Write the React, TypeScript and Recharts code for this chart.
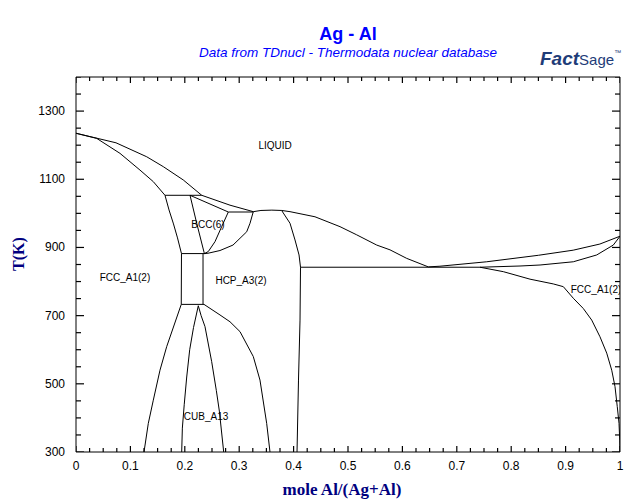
import React from 'react';
import { ComposedChart, Line, XAxis, YAxis, Scatter } from 'recharts';

type P = { x: number; T: number };

// Phase boundary curves (x = mole fraction Al, T in K)
const liquidusAg: P[] = [
  { x: 0, T: 1235 }, { x: 0.0735, T: 1207 }, { x: 0.13, T: 1166 }, { x: 0.1605, T: 1137 },
  { x: 0.1972, T: 1098 }, { x: 0.2311, T: 1053 }, { x: 0.2831, T: 1024 }, { x: 0.3259, T: 1005 },
];
const hcpTop: P[] = [
  { x: 0.3259, T: 1005 }, { x: 0.34, T: 1008.5 }, { x: 0.36, T: 1009.5 }, { x: 0.378, T: 1008.5 },
];
const liquidusMid: P[] = [
  { x: 0.378, T: 1008.5 }, { x: 0.3934, T: 1005 }, { x: 0.4393, T: 990 }, { x: 0.4853, T: 961 },
  { x: 0.516, T: 937 }, { x: 0.5528, T: 907 }, { x: 0.5772, T: 893 }, { x: 0.6079, T: 868 },
  { x: 0.6476, T: 843 },
];
const solidusAg: P[] = [
  { x: 0, T: 1235 }, { x: 0.038, T: 1220 }, { x: 0.0809, T: 1176 }, { x: 0.1176, T: 1127 },
  { x: 0.1421, T: 1093 }, { x: 0.1636, T: 1053 },
];
const peritectic1053: P[] = [{ x: 0.1636, T: 1053 }, { x: 0.2311, T: 1053 }];
const fccAgBoundary: P[] = [
  { x: 0.1636, T: 1053 }, { x: 0.171, T: 1010 }, { x: 0.1792, T: 969 }, { x: 0.1866, T: 928 },
  { x: 0.1939, T: 882 }, { x: 0.1935, T: 733 }, { x: 0.1667, T: 609 }, { x: 0.1544, T: 540 },
  { x: 0.1421, T: 452 }, { x: 0.1329, T: 384 }, { x: 0.125, T: 300 },
];
const bccLeft: P[] = [{ x: 0.2096, T: 1053 }, { x: 0.2219, T: 971 }, { x: 0.236, T: 882 }];
const bccSolidus: P[] = [{ x: 0.2096, T: 1053 }, { x: 0.28, T: 1004 }];
const bccRight: P[] = [
  { x: 0.28, T: 1004 }, { x: 0.2678, T: 961 }, { x: 0.2555, T: 917 }, { x: 0.2432, T: 888 },
  { x: 0.236, T: 882 },
];
const eutectic1004: P[] = [{ x: 0.28, T: 1004 }, { x: 0.3259, T: 1004 }];
const hcpLeftHigh: P[] = [
  { x: 0.3259, T: 1005 }, { x: 0.3199, T: 971 }, { x: 0.3138, T: 946 }, { x: 0.3015, T: 927 },
  { x: 0.2886, T: 907 }, { x: 0.2647, T: 891 }, { x: 0.2426, T: 883 }, { x: 0.236, T: 882 },
];
const eutectoid882: P[] = [{ x: 0.1939, T: 882 }, { x: 0.238, T: 882 }];
const hcpVertical: P[] = [{ x: 0.2335, T: 882 }, { x: 0.2335, T: 733 }];
const peritectoid733: P[] = [{ x: 0.1935, T: 733 }, { x: 0.2353, T: 733 }];
const cubLeft: P[] = [
  { x: 0.2248, T: 729 }, { x: 0.216, T: 665 }, { x: 0.209, T: 600 }, { x: 0.2035, T: 520 },
  { x: 0.199, T: 440 }, { x: 0.1955, T: 370 }, { x: 0.1943, T: 300 },
];
const cubRight: P[] = [
  { x: 0.2248, T: 729 }, { x: 0.23, T: 700 }, { x: 0.2371, T: 668 }, { x: 0.2494, T: 565 },
  { x: 0.258, T: 480 }, { x: 0.2635, T: 420 }, { x: 0.2715, T: 300 },
];
const hcpLeftLow: P[] = [
  { x: 0.2353, T: 733 }, { x: 0.2647, T: 702 }, { x: 0.2831, T: 682 }, { x: 0.3015, T: 653 },
  { x: 0.3259, T: 580 }, { x: 0.3382, T: 511 }, { x: 0.3505, T: 384 }, { x: 0.3566, T: 300 },
];
const hcpRight: P[] = [
  { x: 0.378, T: 1008.5 }, { x: 0.3934, T: 971 }, { x: 0.4026, T: 922 }, { x: 0.41, T: 878 },
  { x: 0.4127, T: 842 }, { x: 0.4118, T: 687 }, { x: 0.409, T: 511 }, { x: 0.4063, T: 300 },
];
const eutectic842: P[] = [{ x: 0.4127, T: 842 }, { x: 0.7426, T: 842 }];
const alLiquidus: P[] = [
  { x: 0.6476, T: 843 }, { x: 0.669, T: 845 }, { x: 0.755, T: 858 }, { x: 0.85, T: 877 },
  { x: 0.914, T: 892 }, { x: 0.963, T: 910 }, { x: 1, T: 933 },
];
const alSolidus: P[] = [
  { x: 0.7426, T: 842 }, { x: 0.8162, T: 845.6 }, { x: 0.853, T: 848.5 }, { x: 0.9142, T: 858 },
  { x: 0.9572, T: 878 }, { x: 0.9877, T: 907 }, { x: 1, T: 933 },
];
const alSolvus: P[] = [
  { x: 0.7426, T: 842 }, { x: 0.7855, T: 829 }, { x: 0.8346, T: 807 }, { x: 0.8774, T: 793 },
  { x: 0.8958, T: 785 }, { x: 0.9142, T: 751 }, { x: 0.9325, T: 721 }, { x: 0.948, T: 687 },
  { x: 0.9632, T: 638 }, { x: 0.9756, T: 590 }, { x: 0.9848, T: 540 }, { x: 0.9908, T: 492 },
  { x: 0.995, T: 433 }, { x: 0.9982, T: 384 }, { x: 0.9995, T: 335 }, { x: 1, T: 300 },
];

const curves: P[][] = [
  liquidusAg, hcpTop, liquidusMid, solidusAg, peritectic1053, fccAgBoundary, bccLeft, bccSolidus,
  bccRight, eutectic1004, hcpLeftHigh, eutectoid882, hcpVertical, peritectoid733, cubLeft, cubRight,
  hcpLeftLow, hcpRight, eutectic842, alLiquidus, alSolidus, alSolvus,
];

const phaseLabels = [
  { x: 0.366, T: 1198, name: 'LIQUID' },
  { x: 0.2426, T: 966, name: 'BCC(6)' },
  { x: 0.09, T: 813, name: 'FCC_A1(2)' },
  { x: 0.3033, T: 802, name: 'HCP_A3(2)' },
  { x: 0.239, T: 405, name: 'CUB_A13' },
  { x: 0.956, T: 778, name: 'FCC_A1(2)' },
];

const X_MIN = 0, X_MAX = 1, T_MIN = 300, T_MAX = 1400;
const xMajor = [0, 0.1, 0.2, 0.3, 0.4, 0.5, 0.6, 0.7, 0.8, 0.9, 1];
const xMajorLabels = ['0', '0.1', '0.2', '0.3', '0.4', '0.5', '0.6', '0.7', '0.8', '0.9', '1'];
const yMajor = [300, 500, 700, 900, 1100, 1300];
const yMajorLabels = ['300', '500', '700', '900', '1100', '1300'];

const xTicksAll: number[] = [];
for (let i = 0; i <= 40; i++) xTicksAll.push(Math.round(i * 25) / 1000);
const yTicksAll: number[] = [];
for (let t = 300; t <= 1400; t += 50) yTicksAll.push(t);

const idxOf = (arr: number[], v: number) => arr.findIndex((m) => Math.abs(m - v) < 1e-6);

// Tick marks anchored on the frame; the shape draws an inward stroke of dx/dy pixels
type TickMark = { x: number; T: number; dx: number; dy: number };
const tickMarks: TickMark[] = [];
xTicksAll.forEach((v) => {
  const len = idxOf(xMajor, v) >= 0 ? 6 : 4;
  tickMarks.push({ x: v, T: T_MIN, dx: 0, dy: -len });
  tickMarks.push({ x: v, T: T_MAX, dx: 0, dy: len });
});
yTicksAll.forEach((t) => {
  const len = idxOf(yMajor, t) >= 0 ? 8 : 5;
  tickMarks.push({ x: X_MIN, T: t, dx: len, dy: 0 });
  tickMarks.push({ x: X_MAX, T: t, dx: -len, dy: 0 });
});

const tickFont = 'Liberation Sans, Arial, sans-serif';

const TickShape = (p: any) => {
  const { cx, cy, payload } = p;
  return (
    <path
      d={`M${cx},${cy}L${cx + payload.dx},${cy + payload.dy}`}
      stroke="#000"
      strokeWidth={1.2}
      fill="none"
    />
  );
};

const LabelShape = (p: any) => (
  <text x={p.cx} y={p.cy + 3.5} textAnchor="middle" fontSize={10} fontFamily={tickFont} fill="#000">
    {p.payload.name}
  </text>
);

const BottomLabel = (props: any) => {
  const { x, y, payload } = props;
  const idx = idxOf(xMajor, payload.value);
  if (idx < 0) return null;
  return (
    <text x={x} y={y + 18} textAnchor="middle" fontSize={12} fontFamily={tickFont} fill="#000">
      {xMajorLabels[idx]}
    </text>
  );
};
const LeftLabel = (props: any) => {
  const { x, y, payload } = props;
  const idx = idxOf(yMajor, payload.value);
  if (idx < 0) return null;
  return (
    <text x={x - 11} y={y + 4} textAnchor="end" fontSize={12} fontFamily={tickFont} fill="#000">
      {yMajorLabels[idx]}
    </text>
  );
};
const NoLabel = () => null;

export default function App() {
  return (
    <div style={{ position: 'absolute', left: 0, top: 0, width: 640, height: 504, background: '#fff' }}>
      <ComposedChart width={640} height={504} margin={{ top: 0, right: 0, bottom: 0, left: 0 }}>
        <XAxis
          dataKey="x"
          type="number"
          domain={[X_MIN, X_MAX]}
          allowDataOverflow
          ticks={xMajor}
          interval={0}
          tickSize={0}
          tickMargin={0}
          tickLine={false}
          stroke="#000"
          tick={<BottomLabel />}
          height={52}
        />
        <XAxis
          xAxisId="top"
          orientation="top"
          type="number"
          domain={[X_MIN, X_MAX]}
          tickLine={false}
          stroke="#000"
          tick={<NoLabel />}
          height={77}
        />
        <YAxis
          dataKey="T"
          type="number"
          domain={[T_MIN, T_MAX]}
          allowDataOverflow
          ticks={yMajor}
          interval={0}
          tickSize={0}
          tickMargin={0}
          tickLine={false}
          stroke="#000"
          tick={<LeftLabel />}
          width={76}
        />
        <YAxis
          yAxisId="right"
          orientation="right"
          type="number"
          domain={[T_MIN, T_MAX]}
          tickLine={false}
          stroke="#000"
          tick={<NoLabel />}
          width={20}
        />
        {curves.map((c, i) => (
          <Line
            key={i}
            data={c}
            dataKey="T"
            type="linear"
            stroke="#000"
            strokeWidth={1}
            dot={false}
            activeDot={false}
            isAnimationActive={false}
          />
        ))}
        <Scatter data={tickMarks} dataKey="T" shape={<TickShape />} isAnimationActive={false} />
        <Scatter data={phaseLabels} dataKey="T" shape={<LabelShape />} isAnimationActive={false} />
      </ComposedChart>
      <svg
        width={640}
        height={504}
        style={{ position: 'absolute', left: 0, top: 0, pointerEvents: 'none' }}
      >
        <text x={348} y={40} textAnchor="middle" fontSize={18} fontWeight="bold" fill="#0000FF" fontFamily={tickFont}>
          Ag - Al
        </text>
        <text x={348} y={57} textAnchor="middle" fontSize={13.5} fontStyle="italic" fill="#0000FF" fontFamily={tickFont}>
          Data from TDnucl - Thermodata nuclear database
        </text>
        <text x={540} y={65} fill="#1e3c78" fontFamily={tickFont}>
          <tspan fontSize={19} fontWeight="bold" fontStyle="italic">Fact</tspan>
          <tspan fontSize={15}>Sage</tspan>
          <tspan fontSize={7} dy={-10}>™</tspan>
        </text>
        <text
          x={24}
          y={254}
          transform="rotate(-90 24 254)"
          textAnchor="middle"
          fontSize={16}
          fontWeight="bold"
          fill="#000080"
          fontFamily="Liberation Serif, Times New Roman, serif"
        >
          T(K)
        </text>
        <text
          x={342}
          y={495}
          textAnchor="middle"
          fontSize={17}
          fontWeight="bold"
          fill="#000080"
          fontFamily="Liberation Serif, Times New Roman, serif"
        >
          mole Al/(Ag+Al)
        </text>
      </svg>
    </div>
  );
}
